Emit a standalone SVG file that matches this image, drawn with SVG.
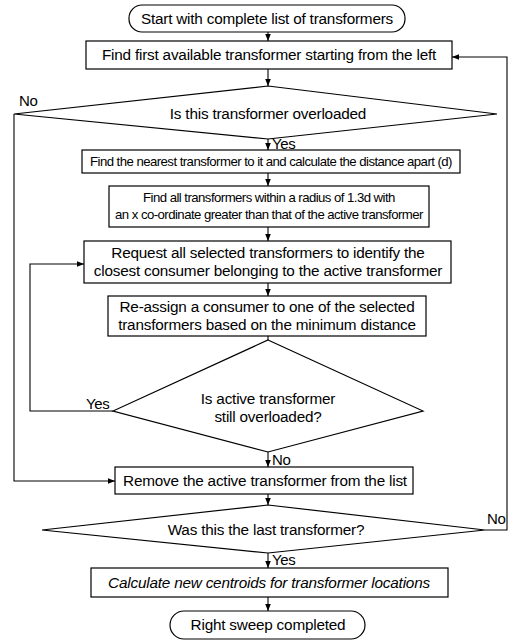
<svg xmlns="http://www.w3.org/2000/svg" width="515" height="642" viewBox="0 0 515 642">
<defs>
<marker id="ah" viewBox="0 0 8 8" refX="8" refY="4" markerWidth="7" markerHeight="7" markerUnits="userSpaceOnUse" orient="auto">
<path d="M0,0.8 L8,4 L0,7.2 Z" fill="#000"/>
</marker>
<style>
.s{fill:#fff;stroke:#000;stroke-width:1.2}
.t{font-family:"Liberation Sans",Arial,sans-serif;font-size:15.3px;letter-spacing:-0.2px;fill:#000;text-anchor:middle}
.m{font-family:"Liberation Sans",Arial,sans-serif;font-size:13.2px;letter-spacing:-0.55px;fill:#000;text-anchor:middle}
.l{font-family:"Liberation Sans",Arial,sans-serif;font-size:15px;letter-spacing:-0.3px;fill:#000}
.c{fill:none;stroke:#000;stroke-width:1.1}
</style>
</defs>
<rect width="515" height="642" fill="#fff"/>
<g id="connectors">
<path class="c" d="M268,32 V41" marker-end="url(#ah)"/>
<path class="c" d="M268,69 V86" marker-end="url(#ah)"/>
<path class="c" d="M268,139 V150" marker-end="url(#ah)"/>
<path class="c" d="M268,173 V186" marker-end="url(#ah)"/>
<path class="c" d="M268,227 V241" marker-end="url(#ah)"/>
<path class="c" d="M268,283 V296" marker-end="url(#ah)"/>
<path class="c" d="M268,336 V340"/>
<path class="c" d="M268,452 V467" marker-end="url(#ah)"/>
<path class="c" d="M268,494 V505" marker-end="url(#ah)"/>
<path class="c" d="M268,553 V568" marker-end="url(#ah)"/>
<path class="c" d="M268,597 V611" marker-end="url(#ah)"/>
<path class="c" d="M14,114 V481 H115" marker-end="url(#ah)"/>
<path class="c" d="M113,411 H30 V264 H84" marker-end="url(#ah)"/>
<path class="c" d="M485,530 H507 V57 H452" marker-end="url(#ah)"/>
<text class="l" x="19" y="106">No</text>
<text class="l" x="272" y="149">Yes</text>
<text class="l" x="86" y="409">Yes</text>
<text class="l" x="272" y="465">No</text>
<text class="l" x="487" y="524">No</text>
<text class="l" x="272" y="565">Yes</text>
</g>
<g id="start">
<rect class="s" x="129" y="5" width="276" height="27" rx="13"/>
<text class="t" x="267" y="24">Start with complete list of transformers</text>
</g>
<g id="find-first">
<rect class="s" x="86" y="41" width="366" height="28"/>
<text class="t" x="269" y="60">Find first available transformer starting from the left</text>
</g>
<g id="overloaded">
<polygon class="s" points="268,86 497,114 268,139 14,114"/>
<text class="t" x="268" y="119">Is this transformer overloaded</text>
</g>
<g id="nearest">
<rect class="s" x="82" y="150" width="378" height="23"/>
<text class="m" x="271" y="166">Find the nearest transformer to it and calculate the distance apart (d)</text>
</g>
<g id="find-all">
<rect class="s" x="109" y="186" width="320" height="41"/>
<text class="m" x="269" y="202">Find all transformers within a radius of 1.3d with</text>
<text class="m" x="269" y="219">an x co-ordinate greater than that of the active transformer</text>
</g>
<g id="request">
<rect class="s" x="84" y="241" width="367" height="42"/>
<text class="t" x="268" y="258">Request all selected transformers to identify the</text>
<text class="t" x="268" y="276">closest consumer belonging to the active transformer</text>
</g>
<g id="reassign">
<rect class="s" x="108" y="296" width="318" height="40"/>
<text class="t" x="267" y="312">Re-assign a consumer to one of the selected</text>
<text class="t" x="267" y="330">transformers based on the minimum distance</text>
</g>
<g id="still-overloaded">
<polygon class="s" points="268,340 423,411 268,452 113,411"/>
<text class="t" x="268" y="404">Is active transformer</text>
<text class="t" x="268" y="422">still overloaded?</text>
</g>
<g id="remove">
<rect class="s" x="115" y="467" width="298" height="27"/>
<text class="t" x="265" y="486">Remove the active transformer from the list</text>
</g>
<g id="last">
<polygon class="s" points="268,505 485,530 268,553 42,530"/>
<text class="t" x="266" y="535">Was this the last transformer?</text>
</g>
<g id="centroids">
<rect class="s" x="91" y="568" width="357" height="29"/>
<text class="t" x="269" y="588" font-style="italic">Calculate new centroids for transformer locations</text>
</g>
<g id="end">
<rect class="s" x="170" y="611" width="195" height="28" rx="14"/>
<text class="t" x="268" y="630">Right sweep completed</text>
</g>
</svg>
